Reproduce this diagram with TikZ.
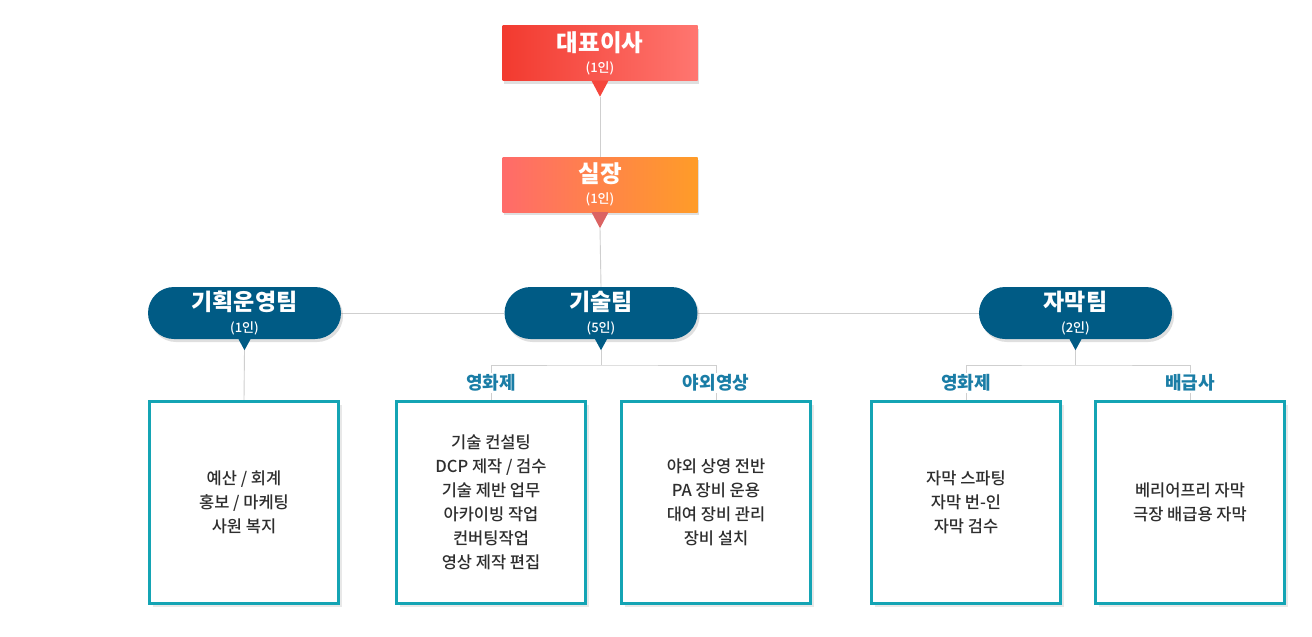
\documentclass[tikz,border=0pt]{standalone}
\usepackage{fontspec}
\setmainfont{Noto Sans CJK KR}
\newfontfamily\mediumfont{Noto Sans CJK KR Medium}
\usetikzlibrary{positioning, calc, shadows, backgrounds}

\definecolor{ceoL}{HTML}{F23A2F}
\definecolor{ceoR}{HTML}{FF7670}
\definecolor{chiefL}{HTML}{FF6B6A}
\definecolor{chiefR}{HTML}{FF9C28}
\definecolor{teamblue}{HTML}{005B85}
\definecolor{boxteal}{HTML}{14A4B4}
\definecolor{labelblue}{HTML}{1A7DA6}
\definecolor{linegray}{HTML}{CFCFCF}
\definecolor{bodytext}{HTML}{2E2E2E}

\begin{document}
\begin{tikzpicture}[x=1pt, y=-1pt,
    head/.style={minimum width=195pt, minimum height=55pt, inner sep=0pt, align=center, text=white,
        font=\mediumfont\fontsize{13}{21}\selectfont,
        drop shadow={opacity=0.25, shadow xshift=1pt, shadow yshift=-3pt}},
    ceo/.style={head, left color=ceoL, right color=ceoR},
    chief/.style={head, left color=chiefL, right color=chiefR},
    team/.style={fill=teamblue, rounded corners=26pt, minimum width=193pt, minimum height=52pt, inner sep=0pt,
        align=center, text=white, font=\mediumfont\fontsize{13}{22}\selectfont,
        drop shadow={opacity=0.25, shadow xshift=2pt, shadow yshift=-3pt}},
    duty/.style={draw=boxteal, line width=3pt, fill=white, minimum width=189pt, minimum height=202pt, inner sep=0pt,
        align=center, text=bodytext, font=\mediumfont\fontsize{16.5}{24}\selectfont,
        drop shadow={opacity=0.18, shadow xshift=3pt, shadow yshift=-3pt}},
    unit/.style={fill=white, inner sep=2pt, text=labelblue, font=\fontsize{18}{20}\selectfont\bfseries},
    link/.style={draw=linegray, line width=0.9pt}
]
\useasboundingbox (0,0) rectangle (1312,637);

% ----------------- 1. top level -----------------
\node[ceo]   (ceo)   at (600,53)    {{\fontsize{23.5}{24}\selectfont\bfseries 대표이사}\\(1인)};
\node[chief] (chief) at (600,184.5) {{\fontsize{23.5}{24}\selectfont\bfseries 실장}\\(1인)};

% ----------------- 2. teams -----------------
\node[team] (plan) at (244.5,313)  {{\fontsize{23}{24}\selectfont\bfseries 기획운영팀}\\(1인)};
\node[team] (tech) at (601,313)    {{\fontsize{23}{24}\selectfont\bfseries 기술팀}\\(5인)};
\node[team] (subs) at (1075.5,313) {{\fontsize{23}{24}\selectfont\bfseries 자막팀}\\(2인)};

% pointers under each header
\foreach \n/\w/\h/\c in {ceo/8.5/16/ceoL!80!ceoR, chief/8.5/16/chiefL!85!black!95, plan/6/11/teamblue, tech/6/11/teamblue, subs/6/11/teamblue}{
    \fill[\c] ($(\n.south)+(-\w,0)$) -- ($(\n.south)+(\w,0)$) -- ($(\n.south)+(0,\h)$) -- cycle;
    \coordinate (\n tip) at ($(\n.south)+(0,\h)$);
}

% ----------------- 3. duty boxes -----------------
\node[duty] (planbox)    at (244,502.5)  {예산 / 회계\\홍보 / 마케팅\\사원 복지};
\node[duty] (filmbox)    at (491,502.5)  {기술 컨설팅\\DCP 제작 / 검수\\기술 제반 업무\\아카이빙 작업\\컨버팅작업\\영상 제작 편집};
\node[duty] (outdoorbox) at (716,502.5)  {야외 상영 전반\\PA 장비 운용\\대여 장비 관리\\장비 설치};
\node[duty] (subfilmbox) at (966,502.5)  {자막 스파팅\\자막 번-인\\자막 검수};
\node[duty] (distbox)    at (1190,502.5) {베리어프리 자막\\극장 배급용 자막};

\coordinate (techfork) at (601,365);
\coordinate (subsfork) at (1075.5,365);

% ----------------- 4. connectors -----------------
\begin{scope}[on background layer]
    \fill[white] (0,0) rectangle (1312,637);
    \draw[link] (ceotip) -- (chief.north);
    \draw[link] (chieftip) -- (tech.north);
    \draw[link] (plan.east) -- (tech.west);
    \draw[link] (tech.east) -- (subs.west);
    \draw[link] (plantip) -- (planbox.north);
    \draw[link] (techtip) -- (techfork);
    \draw[link] (filmbox.north) |- (techfork) -| (outdoorbox.north);
    \draw[link] (substip) -- (subsfork);
    \draw[link] (subfilmbox.north) |- (subsfork) -| (distbox.north);
\end{scope}

% unit labels above the boxes
\node[unit] (film)    at ($(filmbox.north)+(0,-17)$)    {영화제};
\node[unit] (outdoor) at ($(outdoorbox.north)+(0,-17)$) {야외영상};
\node[unit] (subfilm) at ($(subfilmbox.north)+(0,-17)$) {영화제};
\node[unit] (dist)    at ($(distbox.north)+(0,-17)$)    {배급사};

\end{tikzpicture}
\end{document}
